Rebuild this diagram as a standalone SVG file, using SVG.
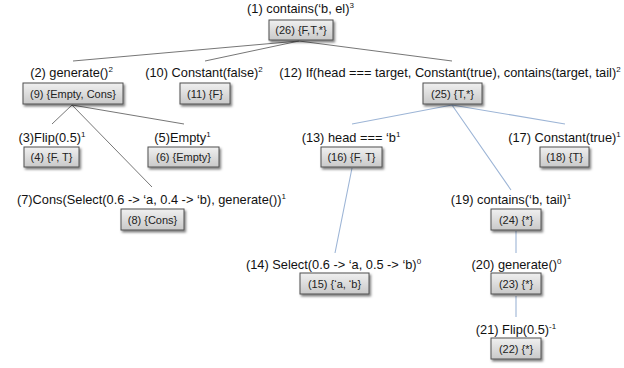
<svg xmlns="http://www.w3.org/2000/svg" width="624" height="368" viewBox="0 0 624 368">
<defs>
<linearGradient id="g" x1="0" y1="0" x2="0" y2="1"><stop offset="0" stop-color="#f0f0f0"/><stop offset="1" stop-color="#c9c9c9"/></linearGradient>
<filter id="sh" x="-20%" y="-30%" width="150%" height="180%"><feDropShadow dx="1.5" dy="2" stdDeviation="1.2" flood-color="#000" flood-opacity="0.5"/></filter>
</defs>
<style>
.lbl{font-family:"Liberation Sans",Arial,sans-serif;font-size:12.8px;fill:#111;text-anchor:middle}
.sup{font-size:8px}
.box rect{fill:url(#g);stroke:#505050;stroke-width:1;filter:url(#sh)}
.box text{font-family:"Liberation Sans",Arial,sans-serif;font-size:11px;fill:#222;text-anchor:middle}
.dk{stroke:#666;stroke-width:0.9;fill:none}
.bl{stroke:#9db5d6;stroke-width:1.1;fill:none}
</style>
<rect width="624" height="368" fill="#fff"/>
<g id="connectors">
<path class="dk" d="M299,41 L73,61 M299,41 L205,61 M299,41 L452,61 M72,105 L52,124 M72,105 L152,187 M72,105 L184,124"/>
<path class="bl" d="M452,105 L352,124 M452,105 L511,190 M452,105 L565,124 M352,168 L335,253 M516,231 L516,253 M516,296 L516,317"/>
</g>
<g id="n1"><text class="lbl" x="300.5" y="13">(1) contains(‘b, el)<tspan class="sup" dy="-5">3</tspan></text>
<g class="box"><rect x="269" y="20" width="64" height="20"/><text x="301" y="34">(26) {F,T,*}</text></g></g>
<g id="n2"><text class="lbl" x="71.5" y="77">(2) generate()<tspan class="sup" dy="-5">2</tspan></text>
<g class="box"><rect x="23" y="83" width="100" height="21"/><text x="73" y="97.5">(9) {Empty, Cons}</text></g></g>
<g id="n10"><text class="lbl" x="204" y="77">(10) Constant(false)<tspan class="sup" dy="-5">2</tspan></text>
<g class="box"><rect x="180" y="83" width="50" height="21"/><text x="205" y="97.5">(11) {F}</text></g></g>
<g id="n12"><text class="lbl" x="450" y="77">(12) If(head === target, Constant(true), contains(target, tail)<tspan class="sup" dy="-5">2</tspan></text>
<g class="box"><rect x="423" y="83" width="59" height="21"/><text x="452.5" y="97.5">(25) {T,*}</text></g></g>
<g id="n3"><text class="lbl" x="52" y="142">(3)Flip(0.5)<tspan class="sup" dy="-5">1</tspan></text>
<g class="box"><rect x="24" y="147" width="55" height="20"/><text x="51.5" y="161">(4) {F, T}</text></g></g>
<g id="n5"><text class="lbl" x="182.5" y="142">(5)Empty<tspan class="sup" dy="-5">1</tspan></text>
<g class="box"><rect x="148" y="147" width="71" height="20"/><text x="183.5" y="161">(6) {Empty}</text></g></g>
<g id="n7"><text class="lbl" x="151.5" y="204">(7)Cons(Select(0.6 -&gt; ‘a, 0.4 -&gt; ‘b), generate())<tspan class="sup" dy="-5">1</tspan></text>
<g class="box"><rect x="121" y="209" width="63" height="21"/><text x="152.5" y="223.5">(8) {Cons}</text></g></g>
<g id="n13"><text class="lbl" x="351" y="142">(13) head === ‘b<tspan class="sup" dy="-5">1</tspan></text>
<g class="box"><rect x="321" y="147" width="61" height="20"/><text x="351.5" y="161">(16) {F, T}</text></g></g>
<g id="n17"><text class="lbl" x="564.5" y="142">(17) Constant(true)<tspan class="sup" dy="-5">1</tspan></text>
<g class="box"><rect x="540" y="147" width="49" height="20"/><text x="564.5" y="161">(18) {T}</text></g></g>
<g id="n19"><text class="lbl" x="511" y="204">(19) contains(‘b, tail)<tspan class="sup" dy="-5">1</tspan></text>
<g class="box"><rect x="491" y="209" width="50" height="21"/><text x="516" y="223.5">(24) {*}</text></g></g>
<g id="n14"><text class="lbl" x="333.5" y="269">(14) Select(0.6 -&gt; ‘a, 0.5 -&gt; ‘b)<tspan class="sup" dy="-5">0</tspan></text>
<g class="box"><rect x="300" y="273" width="69" height="21"/><text x="334.5" y="287.5">(15) {‘a, ‘b}</text></g></g>
<g id="n20"><text class="lbl" x="516.5" y="269">(20) generate()<tspan class="sup" dy="-5">0</tspan></text>
<g class="box"><rect x="491" y="273" width="50" height="21"/><text x="516" y="287.5">(23) {*}</text></g></g>
<g id="n21"><text class="lbl" x="516" y="334">(21) Flip(0.5)<tspan class="sup" dy="-5">-1</tspan></text>
<g class="box"><rect x="491" y="338" width="50" height="21"/><text x="516" y="352.5">(22) {*}</text></g></g>
</svg>
